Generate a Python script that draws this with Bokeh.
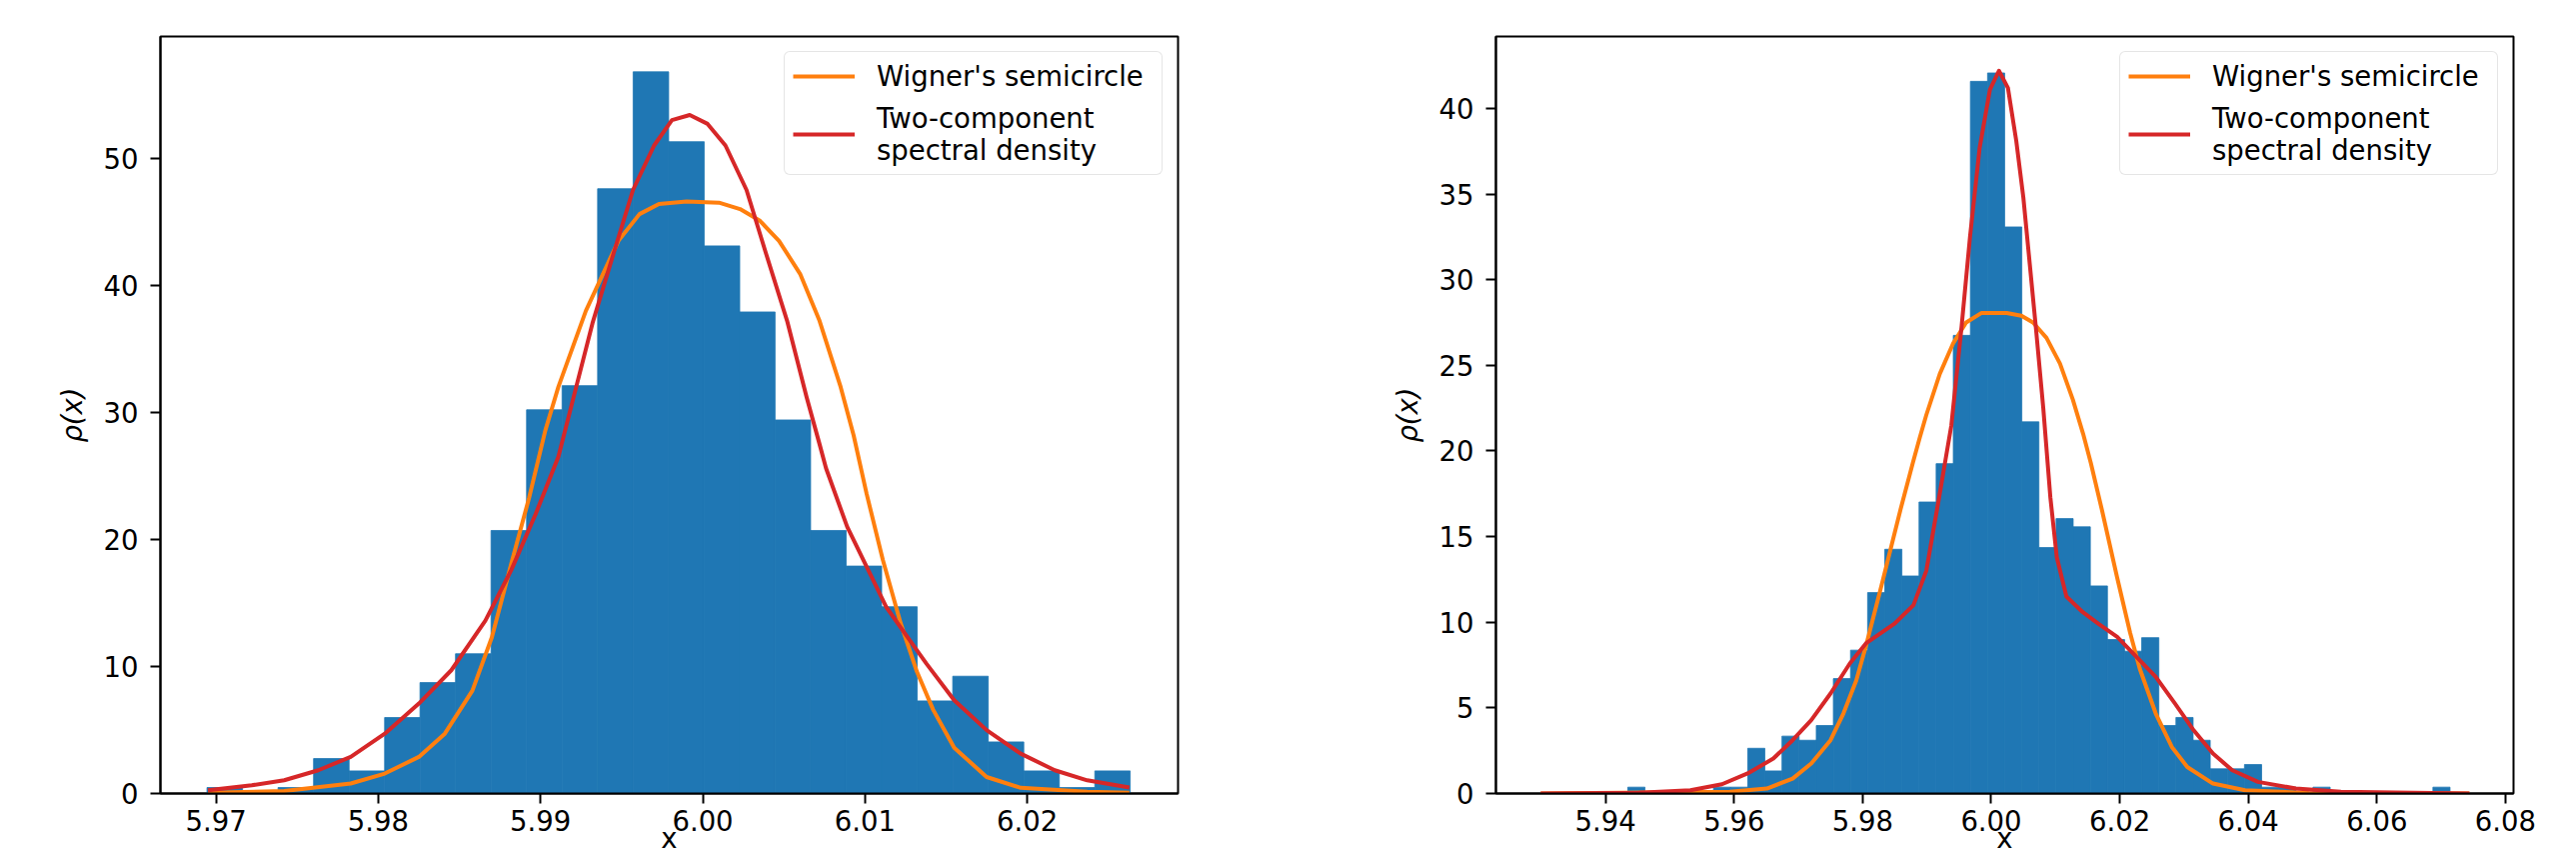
from bokeh.plotting import figure
from bokeh.models import Range1d, FixedTicker, PrintfTickFormatter, Legend, LegendItem
from bokeh.layouts import row
from bokeh.embed import file_html
from bokeh.resources import INLINE

# ---------------- data ----------------
left_edges = [5.96944, 5.97163, 5.97382, 5.97601, 5.97820, 5.98039, 5.98257, 5.98476,
              5.98695, 5.98914, 5.99133, 5.99352, 5.99571, 5.99790, 6.00009, 6.00228,
              6.00446, 6.00665, 6.00884, 6.01103, 6.01322, 6.01541, 6.01760, 6.01979,
              6.02198, 6.02417, 6.02635]
left_heights = [0.47, 0.0, 0.47, 2.75, 1.78, 5.98, 8.73, 11.0, 20.7, 30.2, 32.1, 47.6, 56.8,
                51.3, 43.1, 37.9, 29.4, 20.7, 17.9, 14.7, 7.29, 9.23, 4.06, 1.78, 0.47, 1.78]

left_wigner_x = [5.9695, 5.9742, 5.9783, 5.9804, 5.9825, 5.9841, 5.9858, 5.9870, 5.9882, 5.9893,
                 5.9903, 5.9911, 5.9928, 5.9948, 5.9961, 5.9973, 5.9990, 6.0010, 6.0023, 6.0035,
                 6.0047, 6.0060, 6.0072, 6.0085, 6.0093, 6.0101, 6.0111, 6.0122, 6.0132, 6.0142,
                 6.0155, 6.0175, 6.0196, 6.0237, 6.0263]
left_wigner_y = [0.05, 0.2, 0.79, 1.57, 2.88, 4.71, 8.1, 12.3, 18.1, 23.3,
                 28.6, 32.0, 38.0, 43.5, 45.6, 46.4, 46.6, 46.5, 46.0, 45.1,
                 43.5, 40.9, 37.2, 32.0, 28.2, 23.6, 18.4, 13.4, 9.6, 6.6,
                 3.6, 1.3, 0.45, 0.13, 0.05]

left_two_x = [5.9695, 5.9722, 5.9742, 5.9763, 5.9783, 5.9804, 5.9825, 5.9845, 5.9866, 5.9882,
              5.9897, 5.9911, 5.9920, 5.9932, 5.9945, 5.9957, 5.9970, 5.9981, 5.9992, 6.0003,
              6.0014, 6.0027, 6.0039, 6.0052, 6.0064, 6.0072, 6.0076, 6.0089, 6.0101, 6.0113,
              6.0126, 6.0138, 6.0155, 6.0175, 6.0196, 6.0217, 6.0237, 6.0263]
left_two_y = [0.26, 0.65, 1.04, 1.83, 2.88, 4.71, 7.08, 9.7, 13.6, 17.6,
              22.0, 26.5, 31.0, 37.0, 42.5, 47.5, 51.0, 53.0, 53.4, 52.7,
              51.0, 47.5, 42.5, 37.2, 31.2, 27.5, 25.6, 21.0, 17.85, 14.7,
              12.35, 10.2, 7.34, 4.99, 3.14, 1.83, 1.04, 0.47]

right_edges = [5.94346, 5.94613, 5.94879, 5.95146, 5.95412, 5.95679, 5.95945, 5.96212,
               5.96478, 5.96745, 5.97011, 5.97278, 5.97544, 5.97811, 5.98077, 5.98344,
               5.98610, 5.98877, 5.99143, 5.99410, 5.99676, 5.99943, 6.00209, 6.00476,
               6.00742, 6.01009, 6.01275, 6.01542, 6.01808, 6.02075, 6.02341, 6.02608,
               6.02874, 6.03141, 6.03407, 6.03674, 6.03940, 6.04207, 6.04473, 6.04740,
               6.05006, 6.05273, 6.05539, 6.05806, 6.06072, 6.06339, 6.06605, 6.06872,
               6.07138]
right_heights = [0.37, 0.0, 0.0, 0.0, 0.0, 0.37, 0.37, 2.64, 1.32, 3.35, 3.11, 3.97,
                 6.71, 8.37, 11.73, 14.26, 12.70, 17.02, 19.26, 26.75, 41.58, 42.07,
                 33.08, 21.7, 14.36, 16.05, 15.57, 12.12, 8.99, 8.31, 9.10, 3.97,
                 4.44, 3.11, 1.44, 1.44, 1.69, 0.37, 0.37, 0.0, 0.37, 0.0,
                 0.0, 0.0, 0.0, 0.0, 0.0, 0.37]

right_wigner_x = [5.9299, 5.9593, 5.9651, 5.9691, 5.9720, 5.9750, 5.9770, 5.9790, 5.9805, 5.9829,
                  5.9859, 5.9878, 5.9889, 5.9899, 5.9920, 5.9941, 5.9961, 5.9985, 6.0024, 6.0047,
                  6.0065, 6.0086, 6.0107, 6.0127, 6.0143, 6.0155, 6.0172, 6.0196, 6.0216, 6.0231,
                  6.0256, 6.0281, 6.0305, 6.0345, 6.0395, 6.0494, 6.0744]
right_wigner_y = [0.0, 0.1, 0.29, 0.87, 1.75, 3.11, 4.67, 6.6, 8.6, 12.1,
                  16.6, 19.3, 20.8, 22.1, 24.5, 26.3, 27.5, 28.06, 28.06, 27.9,
                  27.5, 26.6, 25.1, 23.0, 21.0, 19.3, 16.6, 12.6, 9.4, 7.3,
                  4.67, 2.72, 1.55, 0.58, 0.19, 0.03, 0.0]

right_two_x = [5.9299, 5.9452, 5.9532, 5.9581, 5.9621, 5.9661, 5.9691, 5.9720, 5.9750, 5.9780,
               5.9805, 5.9849, 5.9879, 5.9899, 5.9919, 5.9938, 5.9954, 5.9967, 5.9982, 5.9998,
               6.0012, 6.0026, 6.0039, 6.0050, 6.0060, 6.0070, 6.0081, 6.0092, 6.0102, 6.0117,
               6.0142, 6.0167, 6.0196, 6.0226, 6.0256, 6.0286, 6.0315, 6.0345, 6.0375, 6.0415,
               6.0474, 6.0544, 6.0744]
right_two_y = [0.0, 0.04, 0.19, 0.54, 1.17, 2.04, 3.11, 4.28, 5.84, 7.59,
               8.76, 9.9, 11.0, 13.0, 17.3, 21.5, 27.3, 32.5, 37.7, 41.1,
               42.2, 41.2, 38.1, 34.8, 30.9, 27.0, 22.5, 17.3, 13.8, 11.5,
               10.6, 9.9, 9.14, 7.98, 6.81, 5.25, 3.69, 2.33, 1.36, 0.68,
               0.29, 0.1, 0.0]

left_xticks = [5.97, 5.98, 5.99, 6.00, 6.01, 6.02]
left_yticks = [0, 10, 20, 30, 40, 50]
right_xticks = [5.94, 5.96, 5.98, 6.00, 6.02, 6.04, 6.06, 6.08]
right_yticks = [0, 5, 10, 15, 20, 25, 30, 35, 40]

series_labels = ["Wigner's semicircle", "Two-component\nspectral density"]
x_label = "x"
y_label = "\u03c1(x)"

# ---------------- styling ----------------
FONT = "DejaVu Sans"
FS = "27.5px"
BAR = "#1f77b4"
ORANGE = "#ff7f0e"
RED = "#d62728"


def make_panel(edges, heights, wx, wy, tx, ty, xr, yr, xticks, yticks,
               border_left, border_right):
    p = figure(frame_width=1018, frame_height=757,
               x_range=Range1d(*xr), y_range=Range1d(*yr),
               output_backend="svg", toolbar_location=None,
               min_border_left=border_left, min_border_right=border_right,
               min_border_top=36, min_border_bottom=71,
               background_fill_color="white", border_fill_color="white")
    p.grid.visible = False
    p.outline_line_color = "black"
    p.outline_line_width = 2
    p.outline_line_alpha = 1.0

    p.quad(left=edges[:-1], right=edges[1:], top=heights, bottom=0,
           fill_color=BAR, line_color=BAR, line_width=0.8)
    r1 = p.line(wx, wy, line_color=ORANGE, line_width=4, line_join="round")
    r2 = p.line(tx, ty, line_color=RED, line_width=4, line_join="round")

    for ax in (p.xaxis[0], p.yaxis[0]):
        ax.axis_line_color = "black"
        ax.axis_line_width = 2
        ax.major_tick_line_color = "black"
        ax.major_tick_line_width = 2
        ax.major_tick_out = 10
        ax.major_tick_in = 0
        ax.minor_tick_line_color = None
        ax.major_label_text_font = FONT
        ax.major_label_text_font_size = FS
        ax.major_label_text_color = "black"
        ax.axis_label_text_font = FONT
        ax.axis_label_text_font_size = FS
        ax.axis_label_text_color = "black"
        ax.axis_label_text_font_style = "normal"

    p.xaxis[0].ticker = FixedTicker(ticks=xticks)
    p.xaxis[0].formatter = PrintfTickFormatter(format="%.2f")
    p.xaxis[0].major_label_standoff = 6
    p.xaxis[0].axis_label = x_label
    p.xaxis[0].axis_label_standoff = -12

    p.yaxis[0].ticker = FixedTicker(ticks=yticks)
    p.yaxis[0].formatter = PrintfTickFormatter(format="%d")
    p.yaxis[0].major_label_standoff = 12
    p.yaxis[0].axis_label = y_label
    p.yaxis[0].axis_label_text_font_style = "italic"
    p.yaxis[0].axis_label_standoff = 13

    legend = Legend(items=[LegendItem(label=series_labels[0], renderers=[r1]),
                           LegendItem(label=series_labels[1], renderers=[r2])],
                    location="top_right", margin=15, padding=8, spacing=10,
                    glyph_width=62, glyph_height=30, label_standoff=22,
                    label_width=277,
                    label_text_font=FONT, label_text_font_size=FS,
                    label_text_color="black",
                    border_line_color="#cccccc", border_line_width=1.5,
                    background_fill_color="white", background_fill_alpha=0.8)
    if "border_radius" in Legend.properties():
        legend.border_radius = 6
    p.add_layout(legend, "center")
    return p


p1 = make_panel(left_edges, left_heights, left_wigner_x, left_wigner_y,
                left_two_x, left_two_y, (5.96657, 6.02930), (0, 59.58),
                left_xticks, left_yticks, 160, 159)
p2 = make_panel(right_edges, right_heights, right_wigner_x, right_wigner_y,
                right_two_x, right_two_y, (5.92294, 6.08126), (0, 44.2),
                right_xticks, right_yticks, 159, 63)

layout = row(p1, p2)
open("out.html", "w").write(file_html(layout, INLINE))
